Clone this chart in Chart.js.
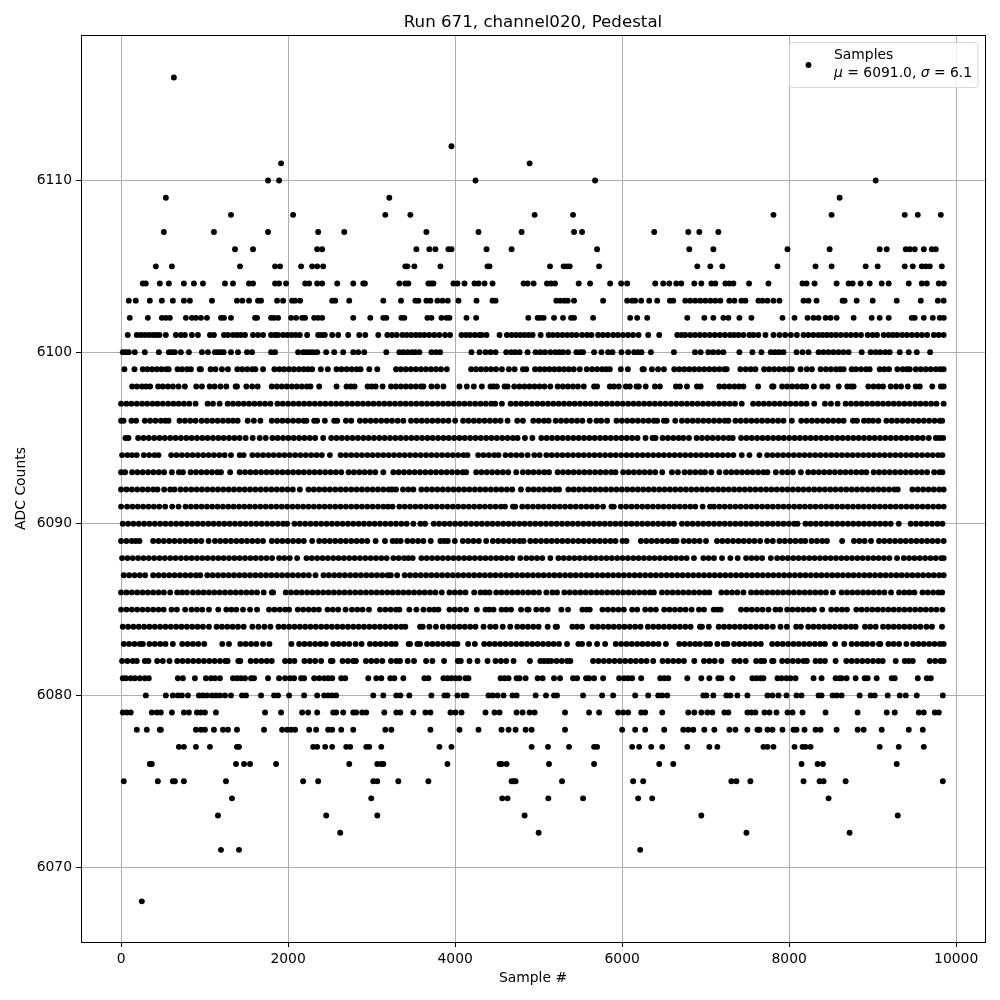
<!DOCTYPE html>
<html>
<head>
<meta charset="utf-8">
<title>Run 671, channel020, Pedestal</title>
<script src="https://cdn.jsdelivr.net/npm/chart.js@4"></script>
<style>
  html, body { margin: 0; padding: 0; background: #ffffff; }
  canvas { display: block; }
</style>
</head>
<body>
<canvas id="chartPedestal" width="1000" height="1000"></canvas>
<script>
const chartTitle = "Run 671, channel020, Pedestal";
const xLabel = "Sample #";
const yLabel = "ADC Counts";
const xTicks = [0, 2000, 4000, 6000, 8000, 10000];
const yTicks = [6070, 6080, 6090, 6100, 6110];
const legendName = "Samples";
const legendMean = "6091.0";
const legendSigma = "6.1";

// sample numbers, one list per ADC level
const adc6116 = [632];
const adc6112 = [3956];
const adc6111 = [1916, 4892];
const adc6110 = [1760, 1892, 4244, 5676, 9036];
const adc6109 = [536, 3212, 8604];
const adc6108 = [1316, 2060, 3164, 3464, 4952, 5412, 7812, 8508, 9384, 9540, 9816];
const adc6107 = [512, 1112, 1760, 2360, 2672, 3656, 4280, 4796, 5424, 5520, 6384, 6792, 6924, 7152];
const adc6106 = [1364, 1580, 2348, 2408, 3536, 3692, 3764, 3920, 3956, 4376, 4676, 5700, 6804, 7092, 7980, 8484, 9084, 9168, 9396, 9444, 9504, 9612, 9708, 9756];
const adc6105 = [416, 608, 1424, 1844, 1904, 2156, 2288, 2348, 2420, 3404, 3428, 3512, 3824, 4388, 4412, 5136, 5300, 5340, 5372, 5724, 6900, 7056, 7200, 7860, 8316, 8508, 8916, 9060, 9384, 9480, 9588, 9636, 9684, 9828];
const adc6104 = [260, 296, 464, 572, 752, 872, 980, 1244, 1340, 1532, 1580, 1844, 1892, 1976, 2204, 2252, 2348, 2408, 2588, 2780, 2900, 2920, 3332, 3404, 3440, 3680, 3710, 3740, 3980, 4028, 4112, 4232, 4280, 4352, 4448, 4820, 4868, 4940, 5100, 5148, 5196, 5480, 5616, 5856, 5988, 6060, 6396, 6492, 6564, 6648, 6708, 6864, 6948, 7068, 7116, 7236, 7284, 7332, 7520, 7752, 8160, 8208, 8304, 8568, 8712, 8760, 8856, 8964, 9108, 9192, 9432, 9588, 9648, 9792, 9852];
const adc6103 = [92, 176, 344, 488, 620, 752, 824, 1088, 1388, 1452, 1532, 1640, 1676, 1868, 1940, 2048, 2084, 2144, 2528, 2564, 2732, 3140, 3352, 3524, 3560, 3656, 3704, 3788, 3848, 3912, 4040, 4256, 4448, 4484, 5212, 5260, 5308, 5348, 5424, 5772, 6060, 6120, 6156, 6228, 6324, 6420, 6572, 6612, 6756, 6816, 6876, 6936, 6996, 7056, 7116, 7176, 7284, 7344, 7428, 7476, 7632, 7680, 7740, 7812, 7884, 8172, 8232, 8328, 8640, 8664, 8808, 9000, 9288, 9576, 9780, 9850];
const adc6102 = [104, 320, 488, 536, 584, 776, 848, 896, 956, 1028, 1196, 1232, 1316, 1604, 1628, 1796, 1832, 1880, 2036, 2096, 2168, 2204, 2312, 2360, 2408, 2780, 2984, 3140, 3176, 3356, 3392, 3668, 3716, 3836, 3896, 3932, 4136, 4252, 4876, 4988, 5020, 5060, 5184, 5292, 5388, 5424, 5652, 6096, 6180, 6300, 6780, 6984, 7092, 7212, 7272, 7404, 7548, 7920, 8064, 8220, 8292, 8352, 8436, 8496, 8568, 8772, 8988, 9084, 9192, 9468, 9504, 9612, 9720, 9804, 9852];
const adc6101 = [80, 188, 236, 284, 332, 380, 420, 460, 536, 656, 716, 764, 848, 920, 1064, 1112, 1232, 1280, 1340, 1388, 1436, 1484, 1580, 1640, 1700, 1796, 1844, 1880, 1940, 1990, 2040, 2090, 2140, 2228, 2360, 2400, 2440, 2528, 2600, 2720, 2852, 2924, 3080, 3188, 3244, 3300, 3368, 3420, 3476, 3530, 3580, 3632, 3690, 3750, 3810, 3880, 3940, 4076, 4130, 4180, 4236, 4290, 4320, 4376, 4532, 4620, 4676, 4730, 4780, 4830, 4880, 4928, 5024, 5120, 5172, 5228, 5284, 5340, 5396, 5452, 5520, 5580, 5632, 5712, 5770, 5828, 5892, 5950, 6010, 6070, 6130, 6196, 6312, 6444, 6660, 6710, 6756, 6816, 6872, 6930, 6990, 7050, 7110, 7170, 7230, 7290, 7340, 7392, 7452, 7524, 7572, 7630, 7716, 7812, 7884, 7952, 8020, 8092, 8172, 8230, 8290, 8350, 8400, 8452, 8504, 8560, 8620, 8680, 8740, 8800, 8860, 8940, 9000, 9052, 9132, 9190, 9240, 9292, 9352, 9410, 9470, 9530, 9590, 9652, 9732, 9790, 9850];
const adc6100 = [20, 56, 92, 164, 284, 452, 572, 610, 644, 716, 812, 968, 1040, 1124, 1160, 1196, 1228, 1316, 1400, 1508, 1568, 1796, 1844, 2120, 2180, 2220, 2260, 2300, 2348, 2456, 2552, 2660, 2780, 2840, 2912, 3176, 3332, 3380, 3430, 3480, 3520, 3572, 3716, 3770, 3820, 4196, 4292, 4364, 4424, 4484, 4612, 4670, 4720, 4772, 4868, 4964, 5020, 5076, 5140, 5200, 5250, 5292, 5352, 5452, 5500, 5532, 5664, 5752, 5832, 5884, 5992, 6072, 6144, 6190, 6232, 6344, 6620, 6872, 6940, 7032, 7090, 7150, 7212, 7404, 7560, 7668, 7780, 7830, 7880, 7932, 8088, 8160, 8232, 8352, 8410, 8470, 8530, 8590, 8650, 8712, 8868, 8976, 9036, 9090, 9152, 9204, 9324, 9432, 9528, 9688];
const adc6099 = [40, 160, 260, 316, 372, 428, 484, 540, 570, 676, 730, 790, 836, 940, 956, 1072, 1130, 1208, 1280, 1392, 1450, 1510, 1570, 1608, 1700, 1836, 1896, 1952, 2012, 2070, 2130, 2186, 2240, 2288, 2392, 2476, 2580, 2640, 2700, 2760, 2820, 2868, 2972, 3068, 3292, 3350, 3410, 3470, 3530, 3590, 3650, 3710, 3770, 3830, 3900, 4192, 4250, 4310, 4370, 4430, 4490, 4560, 4644, 4712, 4812, 4852, 4956, 5014, 5072, 5130, 5188, 5246, 5304, 5362, 5420, 5492, 5576, 5640, 5700, 5760, 5810, 5852, 5984, 6068, 6244, 6260, 6356, 6430, 6500, 6624, 6684, 6744, 6804, 6864, 6924, 6984, 7044, 7104, 7164, 7224, 7252, 7416, 7480, 7540, 7596, 7700, 7760, 7820, 7880, 7940, 8000, 8032, 8136, 8210, 8272, 8376, 8440, 8500, 8560, 8610, 8652, 8748, 8800, 8860, 8920, 8964, 9084, 9140, 9196, 9296, 9360, 9410, 9444, 9516, 9576, 9636, 9696, 9756, 9810, 9850];
const adc6098 = [132, 190, 250, 300, 348, 444, 500, 560, 620, 688, 764, 900, 968, 1060, 1120, 1190, 1260, 1372, 1388, 1500, 1570, 1636, 1804, 1864, 1924, 1984, 2044, 2104, 2164, 2224, 2268, 2372, 2580, 2700, 2750, 2796, 2952, 3000, 3048, 3132, 3232, 3290, 3350, 3410, 3470, 3530, 3590, 3620, 3716, 3784, 3860, 4052, 4140, 4224, 4320, 4424, 4460, 4500, 4592, 4628, 4708, 4770, 4830, 4890, 4950, 5010, 5070, 5140, 5228, 5290, 5350, 5410, 5470, 5540, 5664, 5700, 5852, 5900, 5960, 6044, 6092, 6172, 6200, 6282, 6392, 6452, 6644, 6692, 6776, 6896, 6940, 7164, 7224, 7284, 7344, 7400, 7452, 7628, 7796, 7812, 7916, 7976, 8036, 8096, 8156, 8204, 8296, 8396, 8460, 8594, 8696, 8740, 8772, 8948, 9010, 9070, 9124, 9216, 9280, 9340, 9420, 9516, 9564, 9714, 9816, 9850];
const adc6097 = [0, 64, 124, 188, 252, 312, 376, 436, 500, 564, 628, 688, 752, 816, 892, 1036, 1100, 1180, 1276, 1340, 1404, 1468, 1532, 1596, 1660, 1724, 1788, 1872, 1936, 2000, 2064, 2128, 2192, 2256, 2320, 2384, 2448, 2512, 2576, 2640, 2704, 2768, 2832, 2896, 2960, 3024, 3088, 3152, 3216, 3280, 3344, 3408, 3472, 3536, 3600, 3664, 3728, 3792, 3856, 3920, 3984, 4048, 4112, 4176, 4240, 4304, 4368, 4432, 4480, 4560, 4664, 4728, 4792, 4856, 4920, 4984, 5048, 5112, 5176, 5240, 5304, 5368, 5432, 5496, 5560, 5624, 5688, 5752, 5816, 5880, 5944, 6008, 6072, 6136, 6200, 6264, 6328, 6392, 6456, 6520, 6584, 6648, 6712, 6776, 6840, 6904, 6968, 7032, 7096, 7160, 7224, 7288, 7352, 7432, 7568, 7632, 7696, 7760, 7824, 7888, 7952, 8016, 8080, 8144, 8208, 8300, 8428, 8500, 8580, 8676, 8740, 8804, 8868, 8932, 8996, 9060, 9124, 9188, 9252, 9316, 9380, 9444, 9508, 9572, 9636, 9700, 9764, 9850];
const adc6096 = [0, 30, 124, 180, 284, 348, 412, 476, 530, 568, 700, 764, 828, 892, 964, 1028, 1092, 1156, 1220, 1284, 1340, 1396, 1516, 1590, 1668, 1804, 1868, 1932, 1996, 2060, 2124, 2188, 2220, 2312, 2348, 2440, 2552, 2588, 2692, 2756, 2860, 2924, 2988, 3052, 3116, 3180, 3244, 3312, 3380, 3472, 3536, 3600, 3664, 3728, 3792, 3856, 3920, 4000, 4096, 4160, 4224, 4288, 4352, 4416, 4480, 4544, 4628, 4744, 4812, 4936, 5000, 5064, 5120, 5204, 5268, 5332, 5396, 5460, 5524, 5612, 5692, 5748, 5820, 5932, 5996, 6060, 6124, 6188, 6252, 6316, 6380, 6420, 6500, 6532, 6636, 6716, 6780, 6844, 6908, 6972, 7036, 7100, 7164, 7228, 7272, 7356, 7420, 7484, 7548, 7612, 7676, 7740, 7804, 7868, 7932, 8032, 8144, 8208, 8272, 8336, 8400, 8464, 8528, 8592, 8652, 8764, 8812, 8896, 8950, 9004, 9068, 9164, 9228, 9292, 9356, 9420, 9484, 9548, 9612, 9676, 9740, 9804, 9832];
const adc6095 = [52, 88, 204, 268, 332, 396, 460, 524, 588, 652, 716, 780, 844, 908, 972, 1036, 1100, 1164, 1228, 1292, 1356, 1420, 1492, 1576, 1660, 1732, 1812, 1876, 1940, 2004, 2068, 2132, 2196, 2260, 2324, 2420, 2516, 2580, 2644, 2708, 2772, 2836, 2900, 2964, 3028, 3092, 3156, 3220, 3284, 3348, 3412, 3476, 3540, 3604, 3668, 3732, 3796, 3860, 3924, 3988, 4052, 4116, 4180, 4244, 4308, 4372, 4436, 4500, 4564, 4628, 4692, 4748, 4836, 4925, 5032, 5096, 5160, 5224, 5288, 5352, 5416, 5480, 5544, 5608, 5672, 5736, 5800, 5864, 5928, 5992, 6056, 6120, 6184, 6280, 6364, 6400, 6484, 6548, 6612, 6676, 6732, 6800, 6892, 6956, 7020, 7084, 7148, 7212, 7276, 7324, 7424, 7488, 7552, 7616, 7680, 7744, 7808, 7872, 7936, 8000, 8064, 8128, 8192, 8256, 8320, 8384, 8448, 8512, 8576, 8640, 8704, 8768, 8832, 8896, 8960, 9024, 9088, 9152, 9216, 9280, 9344, 9408, 9472, 9536, 9600, 9672, 9756, 9800, 9844];
const adc6094 = [12, 76, 132, 188, 272, 336, 400, 448, 600, 664, 728, 792, 856, 920, 984, 1048, 1112, 1176, 1240, 1316, 1420, 1468, 1572, 1636, 1700, 1764, 1828, 1892, 1956, 2020, 2084, 2148, 2212, 2276, 2340, 2404, 2500, 2628, 2692, 2756, 2820, 2884, 2948, 3012, 3076, 3140, 3204, 3268, 3332, 3396, 3460, 3524, 3588, 3652, 3716, 3780, 3844, 3908, 3972, 4036, 4100, 4148, 4276, 4340, 4404, 4468, 4520, 4604, 4668, 4732, 4796, 4868, 4948, 5012, 5092, 5156, 5220, 5284, 5348, 5412, 5476, 5540, 5604, 5668, 5732, 5796, 5860, 5924, 5988, 6052, 6116, 6180, 6244, 6308, 6372, 6436, 6500, 6564, 6628, 6692, 6756, 6820, 6884, 6948, 7012, 7076, 7140, 7204, 7268, 7332, 7432, 7524, 7644, 7736, 7800, 7864, 7928, 7992, 8056, 8120, 8184, 8248, 8312, 8376, 8440, 8504, 8568, 8632, 8696, 8760, 8824, 8888, 8952, 9016, 9080, 9144, 9208, 9272, 9336, 9400, 9464, 9528, 9592, 9656, 9720, 9784, 9835];
const adc6093 = [0, 48, 132, 196, 260, 324, 388, 452, 516, 608, 692, 740, 832, 896, 960, 1024, 1088, 1152, 1196, 1306, 1420, 1484, 1548, 1612, 1676, 1740, 1804, 1868, 1932, 1996, 2060, 2124, 2188, 2252, 2316, 2380, 2444, 2508, 2572, 2636, 2724, 2788, 2852, 2916, 2980, 3044, 3140, 3260, 3324, 3388, 3452, 3516, 3580, 3644, 3708, 3772, 3836, 3900, 3964, 4028, 4092, 4132, 4252, 4316, 4380, 4444, 4508, 4572, 4636, 4732, 4812, 4876, 4940, 5004, 5068, 5124, 5228, 5292, 5356, 5420, 5484, 5548, 5612, 5676, 5740, 5804, 5868, 5920, 6012, 6076, 6140, 6204, 6268, 6332, 6396, 6480, 6596, 6668, 6748, 6812, 6876, 6940, 6992, 7068, 7164, 7244, 7308, 7372, 7436, 7500, 7564, 7628, 7692, 7740, 7840, 7916, 7980, 8044, 8140, 8228, 8292, 8356, 8420, 8484, 8548, 8612, 8676, 8740, 8804, 8868, 8924, 9012, 9076, 9140, 9204, 9268, 9332, 9396, 9460, 9524, 9588, 9652, 9736, 9800, 9835];
const adc6092 = [0, 64, 128, 192, 256, 320, 384, 436, 516, 588, 640, 712, 776, 840, 904, 968, 1032, 1096, 1160, 1224, 1288, 1352, 1416, 1480, 1544, 1608, 1672, 1736, 1800, 1864, 1928, 1992, 2056, 2140, 2244, 2308, 2372, 2436, 2500, 2564, 2628, 2692, 2756, 2820, 2884, 2948, 3012, 3076, 3140, 3204, 3244, 3292, 3376, 3440, 3500, 3596, 3660, 3724, 3788, 3852, 3916, 3980, 4044, 4108, 4172, 4236, 4300, 4364, 4428, 4492, 4556, 4620, 4684, 4788, 4876, 4940, 5004, 5068, 5132, 5196, 5244, 5356, 5420, 5484, 5548, 5612, 5676, 5740, 5804, 5868, 5932, 5996, 6060, 6124, 6188, 6252, 6316, 6380, 6444, 6508, 6572, 6636, 6700, 6764, 6828, 6892, 6956, 7020, 7084, 7148, 7212, 7276, 7340, 7404, 7468, 7532, 7596, 7660, 7724, 7788, 7852, 7916, 7980, 8044, 8108, 8172, 8236, 8300, 8364, 8428, 8492, 8556, 8620, 8684, 8748, 8812, 8876, 8940, 9004, 9068, 9132, 9196, 9260, 9300, 9476, 9540, 9604, 9668, 9732, 9796, 9850];
const adc6091 = [0, 72, 136, 200, 264, 328, 392, 456, 528, 612, 688, 772, 836, 900, 964, 1028, 1092, 1156, 1220, 1284, 1348, 1412, 1476, 1540, 1604, 1668, 1732, 1796, 1860, 1924, 1988, 2052, 2116, 2180, 2244, 2308, 2372, 2436, 2500, 2564, 2628, 2692, 2756, 2820, 2884, 2948, 3012, 3076, 3140, 3196, 3250, 3332, 3396, 3460, 3524, 3588, 3652, 3716, 3780, 3844, 3908, 3972, 4036, 4100, 4164, 4228, 4292, 4356, 4420, 4484, 4548, 4596, 4692, 4720, 4804, 4868, 4932, 4996, 5060, 5124, 5188, 5252, 5316, 5380, 5444, 5508, 5572, 5636, 5700, 5772, 5872, 5900, 5984, 6048, 6112, 6176, 6240, 6304, 6368, 6432, 6496, 6560, 6624, 6688, 6752, 6816, 6876, 6964, 7052, 7100, 7164, 7228, 7292, 7356, 7420, 7484, 7548, 7612, 7676, 7740, 7804, 7868, 7932, 7996, 8060, 8124, 8188, 8252, 8316, 8380, 8444, 8508, 8572, 8636, 8700, 8764, 8828, 8892, 8956, 9020, 9084, 9148, 9212, 9276, 9340, 9404, 9468, 9532, 9596, 9660, 9724, 9788, 9850];
const adc6090 = [20, 84, 148, 212, 276, 340, 404, 468, 532, 596, 660, 724, 788, 852, 916, 980, 1044, 1108, 1172, 1236, 1300, 1364, 1428, 1492, 1556, 1620, 1684, 1748, 1812, 1876, 1940, 1988, 2076, 2140, 2204, 2268, 2332, 2396, 2460, 2524, 2588, 2652, 2716, 2780, 2844, 2908, 2972, 3036, 3100, 3164, 3228, 3292, 3356, 3420, 3500, 3584, 3640, 3744, 3808, 3872, 3936, 4000, 4064, 4128, 4192, 4256, 4320, 4384, 4448, 4512, 4576, 4640, 4704, 4768, 4832, 4896, 4960, 5024, 5088, 5152, 5216, 5280, 5344, 5408, 5472, 5536, 5600, 5664, 5728, 5792, 5856, 5920, 5984, 6048, 6112, 6176, 6240, 6304, 6368, 6432, 6496, 6560, 6620, 6716, 6780, 6844, 6908, 6972, 7036, 7100, 7164, 7228, 7292, 7356, 7420, 7484, 7548, 7612, 7676, 7740, 7804, 7868, 7932, 7996, 8060, 8100, 8196, 8256, 8320, 8384, 8448, 8512, 8576, 8640, 8704, 8768, 8832, 8896, 8960, 9024, 9088, 9152, 9216, 9312, 9456, 9520, 9584, 9648, 9712, 9776, 9835];
const adc6089 = [0, 64, 128, 176, 220, 384, 448, 512, 576, 640, 704, 768, 832, 896, 960, 1048, 1124, 1188, 1252, 1316, 1380, 1444, 1508, 1572, 1636, 1700, 1804, 1868, 1932, 1996, 2060, 2124, 2188, 2288, 2372, 2436, 2500, 2564, 2628, 2692, 2756, 2820, 2884, 2948, 3048, 3160, 3252, 3300, 3348, 3428, 3492, 3556, 3620, 3708, 3824, 3870, 3912, 3996, 4092, 4156, 4220, 4284, 4372, 4452, 4516, 4580, 4644, 4708, 4772, 4820, 4900, 4964, 5028, 5092, 5156, 5220, 5284, 5348, 5412, 5476, 5540, 5604, 5668, 5732, 5796, 5860, 5920, 6004, 6052, 6224, 6288, 6352, 6416, 6480, 6544, 6608, 6652, 6736, 6800, 6864, 6928, 7004, 7136, 7200, 7264, 7328, 7392, 7456, 7520, 7584, 7652, 7736, 7804, 7884, 7948, 8012, 8076, 8140, 8192, 8268, 8332, 8396, 8452, 8634, 8776, 8840, 8904, 8980, 9076, 9140, 9204, 9268, 9332, 9396, 9460, 9524, 9588, 9652, 9716, 9780, 9850];
const adc6088 = [12, 76, 140, 204, 268, 332, 396, 460, 524, 588, 652, 716, 780, 844, 908, 972, 1036, 1100, 1164, 1228, 1292, 1356, 1420, 1484, 1548, 1612, 1676, 1740, 1808, 1892, 1956, 2020, 2108, 2220, 2284, 2348, 2412, 2476, 2540, 2604, 2668, 2732, 2796, 2860, 2924, 2988, 3052, 3116, 3180, 3260, 3324, 3388, 3440, 3492, 3596, 3660, 3724, 3788, 3852, 3916, 3980, 4044, 4108, 4172, 4236, 4300, 4364, 4428, 4492, 4556, 4620, 4684, 4780, 4852, 4916, 4980, 5044, 5140, 5236, 5300, 5364, 5428, 5492, 5556, 5620, 5684, 5748, 5812, 5876, 5940, 6004, 6068, 6132, 6196, 6260, 6324, 6388, 6452, 6516, 6580, 6644, 6708, 6772, 6860, 6972, 7036, 7100, 7196, 7296, 7384, 7484, 7548, 7612, 7676, 7780, 7856, 7920, 7984, 8048, 8112, 8176, 8240, 8304, 8368, 8432, 8496, 8560, 8624, 8688, 8752, 8816, 8880, 8944, 9008, 9072, 9136, 9200, 9292, 9372, 9436, 9500, 9564, 9628, 9692, 9756, 9820, 9850];
const adc6087 = [32, 96, 160, 224, 288, 384, 448, 512, 576, 640, 704, 768, 832, 896, 948, 1032, 1096, 1160, 1224, 1288, 1352, 1416, 1480, 1544, 1608, 1672, 1736, 1800, 1864, 1928, 1992, 2056, 2120, 2184, 2248, 2328, 2424, 2488, 2552, 2616, 2680, 2744, 2808, 2872, 2936, 3000, 3064, 3128, 3192, 3230, 3306, 3396, 3460, 3524, 3588, 3652, 3716, 3780, 3844, 3908, 3972, 4036, 4100, 4164, 4228, 4292, 4356, 4420, 4484, 4548, 4612, 4676, 4740, 4804, 4868, 4932, 4996, 5060, 5124, 5188, 5252, 5316, 5380, 5444, 5508, 5572, 5636, 5700, 5764, 5828, 5892, 5956, 6020, 6084, 6148, 6212, 6276, 6340, 6404, 6468, 6532, 6596, 6660, 6724, 6788, 6852, 6916, 6980, 7044, 7108, 7172, 7236, 7300, 7364, 7428, 7492, 7556, 7620, 7684, 7748, 7812, 7876, 7940, 8004, 8068, 8132, 8196, 8260, 8324, 8388, 8452, 8516, 8580, 8644, 8708, 8772, 8836, 8900, 8964, 9028, 9092, 9156, 9220, 9284, 9348, 9412, 9476, 9540, 9604, 9668, 9732, 9796, 9850];
const adc6086 = [0, 64, 128, 192, 256, 320, 384, 448, 512, 588, 672, 730, 788, 860, 924, 988, 1052, 1116, 1180, 1244, 1308, 1372, 1436, 1500, 1564, 1628, 1708, 1804, 1820, 1972, 2036, 2100, 2164, 2228, 2292, 2356, 2420, 2484, 2548, 2612, 2676, 2740, 2804, 2868, 2932, 2996, 3060, 3124, 3188, 3252, 3316, 3380, 3444, 3508, 3572, 3636, 3700, 3764, 3840, 3932, 3996, 4060, 4124, 4228, 4304, 4360, 4412, 4492, 4556, 4620, 4684, 4748, 4812, 4876, 4940, 5004, 5092, 5164, 5220, 5308, 5372, 5436, 5500, 5564, 5628, 5692, 5756, 5820, 5884, 5948, 6012, 6076, 6140, 6204, 6268, 6332, 6380, 6476, 6540, 6604, 6668, 6732, 6796, 6860, 6924, 6988, 7044, 7188, 7252, 7316, 7380, 7452, 7544, 7608, 7672, 7736, 7800, 7864, 7928, 7992, 8056, 8120, 8184, 8248, 8312, 8376, 8440, 8524, 8628, 8692, 8756, 8820, 8884, 8948, 9012, 9076, 9140, 9220, 9316, 9380, 9440, 9500, 9596, 9660, 9724, 9788, 9832];
const adc6085 = [0, 64, 128, 192, 256, 320, 384, 448, 510, 604, 668, 768, 844, 908, 972, 1052, 1164, 1260, 1320, 1380, 1460, 1544, 1628, 1772, 1836, 1900, 1964, 2012, 2116, 2180, 2244, 2308, 2368, 2472, 2536, 2600, 2688, 2764, 2828, 2892, 2968, 3100, 3164, 3228, 3292, 3332, 3452, 3536, 3620, 3692, 3750, 3800, 3932, 3996, 4060, 4132, 4260, 4364, 4410, 4460, 4556, 4612, 4670, 4790, 4864, 4880, 4972, 5040, 5108, 5272, 5352, 5524, 5572, 5612, 5764, 5828, 5892, 5956, 6020, 6120, 6180, 6276, 6340, 6404, 6504, 6568, 6632, 6696, 6760, 6832, 6920, 6980, 7096, 7140, 7180, 7424, 7488, 7552, 7616, 7680, 7752, 7836, 7892, 7976, 8040, 8104, 8168, 8232, 8296, 8396, 8504, 8568, 8632, 8692, 8804, 8868, 8932, 8996, 9060, 9124, 9188, 9252, 9316, 9380, 9444, 9508, 9572, 9636, 9700, 9764, 9835];
const adc6084 = [20, 84, 148, 212, 276, 340, 404, 468, 532, 596, 660, 724, 788, 852, 916, 980, 1052, 1144, 1208, 1272, 1336, 1400, 1468, 1572, 1644, 1716, 1788, 1884, 1948, 2012, 2076, 2140, 2204, 2268, 2332, 2396, 2460, 2524, 2588, 2652, 2716, 2780, 2844, 2908, 2972, 3036, 3100, 3164, 3228, 3292, 3356, 3404, 3580, 3612, 3692, 3770, 3852, 3924, 3988, 4052, 4116, 4180, 4244, 4340, 4420, 4484, 4570, 4660, 4744, 4808, 4872, 4936, 5000, 5108, 5204, 5220, 5404, 5460, 5520, 5644, 5708, 5772, 5836, 5900, 5964, 6028, 6092, 6156, 6220, 6308, 6372, 6436, 6500, 6564, 6628, 6692, 6756, 6820, 6932, 6956, 7038, 7156, 7220, 7284, 7348, 7412, 7476, 7540, 7604, 7668, 7732, 7804, 7896, 7972, 8084, 8140, 8228, 8292, 8356, 8420, 8484, 8548, 8612, 8676, 8740, 8796, 8908, 8970, 9036, 9124, 9188, 9252, 9316, 9380, 9444, 9508, 9572, 9644, 9710, 9830];
const adc6083 = [32, 96, 160, 224, 260, 340, 404, 468, 532, 620, 732, 796, 860, 924, 996, 1212, 1292, 1428, 1492, 1556, 1620, 1700, 1776, 2040, 2132, 2196, 2260, 2324, 2388, 2452, 2540, 2604, 2668, 2732, 2808, 2880, 2980, 3044, 3108, 3172, 3236, 3288, 3444, 3460, 3548, 3580, 3664, 3728, 3792, 3856, 3920, 3984, 4028, 4156, 4236, 4348, 4412, 4476, 4540, 4604, 4668, 4732, 4796, 4860, 4924, 4988, 5052, 5116, 5180, 5244, 5340, 5476, 5520, 5604, 5700, 5796, 5924, 5988, 6052, 6116, 6180, 6244, 6308, 6372, 6436, 6524, 6684, 6748, 6812, 6876, 6932, 7004, 7052, 7140, 7216, 7260, 7340, 7404, 7468, 7532, 7596, 7660, 7796, 7860, 7924, 7988, 8052, 8116, 8180, 8244, 8308, 8372, 8428, 8550, 8660, 8748, 8812, 8876, 8932, 9000, 9076, 9092, 9188, 9252, 9316, 9404, 9484, 9548, 9612, 9676, 9740, 9804, 9850];
const adc6082 = [12, 76, 140, 188, 284, 328, 432, 500, 580, 672, 736, 800, 864, 928, 992, 1056, 1120, 1184, 1248, 1276, 1404, 1428, 1552, 1616, 1680, 1744, 1804, 1964, 2020, 2076, 2196, 2260, 2324, 2396, 2512, 2532, 2652, 2716, 2780, 2812, 2932, 2996, 3060, 3128, 3232, 3296, 3340, 3432, 3508, 3652, 3728, 3868, 4032, 4068, 4172, 4268, 4388, 4484, 4548, 4612, 4700, 4896, 5020, 5064, 5108, 5150, 5214, 5278, 5342, 5380, 5652, 5716, 5780, 5844, 5908, 5972, 6036, 6100, 6164, 6228, 6292, 6372, 6484, 6548, 6612, 6676, 6740, 6864, 6980, 7044, 7108, 7188, 7344, 7408, 7480, 7604, 7660, 7700, 7796, 7812, 7916, 7980, 8044, 8108, 8172, 8212, 8316, 8372, 8428, 8556, 8684, 8748, 8812, 8876, 8940, 9004, 9068, 9120, 9276, 9384, 9432, 9480, 9684, 9748, 9812, 9850];
const adc6081 = [20, 60, 116, 164, 224, 284, 332, 680, 740, 884, 1016, 1076, 1124, 1184, 1340, 1388, 1436, 1484, 1556, 1592, 1760, 1892, 1964, 2024, 2072, 2156, 2192, 2312, 2372, 2432, 2480, 2528, 2636, 2684, 2960, 3056, 3116, 3224, 3272, 3380, 3632, 3680, 3860, 3908, 3956, 4004, 4052, 4124, 4160, 4544, 4592, 4640, 4736, 4772, 4844, 4988, 5048, 5184, 5256, 5412, 5460, 5568, 5604, 5664, 5772, 5964, 6024, 6072, 6120, 6228, 6456, 6504, 6552, 6780, 6948, 7044, 7152, 7188, 7320, 7560, 7608, 7656, 7692, 7860, 7908, 7968, 8016, 8076, 8292, 8388, 8556, 8604, 8628, 8688, 8796, 8904, 8940, 9048, 9228, 9264, 9540, 9648, 9696];
const adc6080 = [296, 536, 620, 680, 728, 800, 932, 980, 1028, 1088, 1136, 1184, 1244, 1316, 1448, 1496, 1676, 1832, 1880, 2012, 2192, 2348, 2432, 2480, 2528, 2576, 3020, 3140, 3296, 3344, 3452, 3716, 3872, 3908, 4028, 4100, 4136, 4400, 4448, 4508, 4580, 4688, 4736, 4964, 5088, 5184, 5220, 5532, 5760, 5892, 6156, 6312, 6432, 6480, 6540, 6972, 7008, 7092, 7248, 7296, 7380, 7500, 7740, 7800, 7872, 7968, 8088, 8148, 8352, 8388, 8520, 8568, 8628, 8844, 8976, 9024, 9180, 9324, 9396, 9528, 9840];
const adc6079 = [20, 68, 116, 368, 428, 476, 608, 752, 812, 908, 956, 1004, 1136, 1724, 1916, 2168, 2240, 2348, 2540, 2576, 2660, 2780, 2816, 2888, 2936, 3152, 3296, 3344, 3500, 3644, 3704, 3944, 4004, 4076, 4364, 4472, 4532, 4736, 4808, 4892, 4952, 5316, 5604, 5724, 5952, 6012, 6072, 6228, 6276, 6480, 6792, 6864, 6948, 7020, 7080, 7224, 7272, 7500, 7548, 7596, 7704, 7764, 7848, 7980, 8040, 8160, 8436, 8820, 9168, 9264, 9552, 9612, 9744, 9792];
const adc6078 = [188, 308, 464, 476, 896, 956, 1004, 1112, 1220, 1280, 1388, 1712, 1928, 1988, 2036, 2084, 2252, 2336, 2480, 2528, 2636, 2780, 3164, 3236, 3704, 4052, 4280, 4556, 4640, 4724, 4844, 4916, 5316, 6000, 6156, 6276, 6504, 6732, 6792, 6852, 6984, 7104, 7284, 7356, 7500, 7620, 7644, 7740, 7800, 7920, 8052, 8088, 8184, 8316, 8376, 8568, 8820, 8892, 9108, 9432, 9600];
const adc6077 = [692, 752, 896, 1064, 1388, 1412, 2300, 2348, 2444, 2528, 2696, 2744, 2936, 2972, 3116, 3812, 3956, 4916, 5112, 5364, 5664, 5700, 6120, 6204, 6348, 6480, 6780, 7044, 7140, 7692, 7740, 7812, 8064, 8160, 8196, 8256, 9084, 9312, 9612];
const adc6076 = [344, 368, 1376, 1472, 1544, 1856, 2732, 3068, 3116, 3140, 3908, 4532, 4556, 4616, 5124, 5664, 6444, 6612, 8148, 8340, 8404, 9288];
const adc6075 = [32, 440, 620, 644, 752, 1256, 2180, 2360, 3020, 3068, 3320, 3680, 4676, 4700, 4724, 5280, 6132, 6252, 7308, 7368, 7536, 8172, 8364, 8412, 8676, 9840];
const adc6074 = [1328, 2996, 4564, 4628, 5116, 5532, 6192, 6360, 8472];
const adc6073 = [1160, 2456, 3068, 4832, 6948, 9300];
const adc6072 = [2624, 5000, 7488, 8724];
const adc6071 = [1196, 1412, 6216];
const adc6068 = [248];

const levels = [6116, 6112, 6111, 6110, 6109, 6108, 6107, 6106, 6105, 6104, 6103, 6102, 6101, 6100, 6099, 6098, 6097, 6096, 6095, 6094, 6093, 6092, 6091, 6090, 6089, 6088, 6087, 6086, 6085, 6084, 6083, 6082, 6081, 6080, 6079, 6078, 6077, 6076, 6075, 6074, 6073, 6072, 6071, 6068];
const samplesByLevel = [adc6116, adc6112, adc6111, adc6110, adc6109, adc6108, adc6107, adc6106, adc6105, adc6104, adc6103, adc6102, adc6101, adc6100, adc6099, adc6098, adc6097, adc6096, adc6095, adc6094, adc6093, adc6092, adc6091, adc6090, adc6089, adc6088, adc6087, adc6086, adc6085, adc6084, adc6083, adc6082, adc6081, adc6080, adc6079, adc6078, adc6077, adc6076, adc6075, adc6074, adc6073, adc6072, adc6071, adc6068];

const points = [];
levels.forEach((level, i) => {
  samplesByLevel[i].forEach(sample => points.push({ x: sample, y: level }));
});

const fontFamily = "'DejaVu Sans', sans-serif";

/** Spines and the matplotlib style legend box */
const framePlugin = {
  id: "frame",
  afterDraw(chart) {
    const { ctx, chartArea: a } = chart;
    ctx.save();
    ctx.strokeStyle = "#000000";
    ctx.lineWidth = 1;
    ctx.strokeRect(a.left + 0.5, a.top + 0.5, a.right - a.left, a.bottom - a.top);

    // legend
    const box = { x: 789.5, y: 42.5, w: 188.5, h: 45 };
    ctx.beginPath();
    ctx.roundRect(box.x, box.y, box.w, box.h, 3);
    ctx.fillStyle = "rgba(255,255,255,0.8)";
    ctx.fill();
    ctx.strokeStyle = "rgba(204,204,204,0.8)";
    ctx.stroke();
    ctx.fillStyle = "#000000";
    ctx.beginPath();
    ctx.arc(808.5, 65, 2.9, 0, Math.PI * 2);
    ctx.fill();
    ctx.textBaseline = "alphabetic";
    ctx.textAlign = "left";
    const plain = "13.9px " + fontFamily;
    const oblique = "oblique 13.9px " + fontFamily;
    ctx.font = plain;
    ctx.fillText(legendName, 834, 59);
    let x = 834;
    [["μ", oblique], [" = " + legendMean + ", ", plain], ["σ", oblique], [" = " + legendSigma, plain]].forEach(([t, f]) => {
      ctx.font = f;
      ctx.fillText(t, x, 76.5);
      x += ctx.measureText(t).width;
    });
    ctx.restore();
  }
};

new Chart(document.getElementById("chartPedestal"), {
  type: "scatter",
  data: {
    datasets: [
      {
        label: legendName,
        data: points,
        backgroundColor: "#000000",
        borderWidth: 0,
        pointRadius: 2.95,
        pointHoverRadius: 2.95,
        showLine: false
      }
    ]
  },
  options: {
    responsive: false,
    animation: false,
    parsing: false,
    normalized: false,
    layout: { padding: { left: 0, right: 15, top: 0, bottom: 0 } },
    plugins: {
      legend: { display: false },
      tooltip: { enabled: false },
      title: {
        display: true,
        text: chartTitle,
        color: "#000000",
        fullSize: false,
        font: { family: fontFamily, size: 16.67, weight: "normal", lineHeight: 1.2 },
        padding: { top: 13, bottom: 2 }
      }
    },
    scales: {
      x: {
        type: "linear",
        min: -480,
        max: 10345,
        afterBuildTicks(scale) { scale.ticks = xTicks.map(value => ({ value })); },
        afterFit(scale) { scale.height = 58; },
        grid: { color: "#b0b0b0", lineWidth: 1, tickColor: "#000000", tickLength: 5 },
        border: { display: false },
        ticks: {
          color: "#000000",
          padding: 4,
          maxRotation: 0,
          autoSkip: false,
          font: { family: fontFamily, size: 13.9 },
          callback: v => String(v)
        },
        title: {
          display: true,
          text: xLabel,
          color: "#000000",
          padding: { top: 0, bottom: 13 },
          font: { family: fontFamily, size: 13.9, weight: "normal" }
        }
      },
      y: {
        type: "linear",
        min: 6065.63,
        max: 6118.48,
        afterBuildTicks(scale) { scale.ticks = yTicks.map(value => ({ value })); },
        afterFit(scale) { scale.width = 81; },
        grid: { color: "#b0b0b0", lineWidth: 1, tickColor: "#000000", tickLength: 5 },
        border: { display: false },
        ticks: {
          color: "#000000",
          padding: 4,
          autoSkip: false,
          font: { family: fontFamily, size: 13.9 },
          callback: v => String(v)
        },
        title: {
          display: true,
          text: yLabel,
          color: "#000000",
          padding: { top: 13, bottom: 0 },
          font: { family: fontFamily, size: 13.9, weight: "normal" }
        }
      }
    }
  },
  plugins: [framePlugin]
});
</script>
</body>
</html>
